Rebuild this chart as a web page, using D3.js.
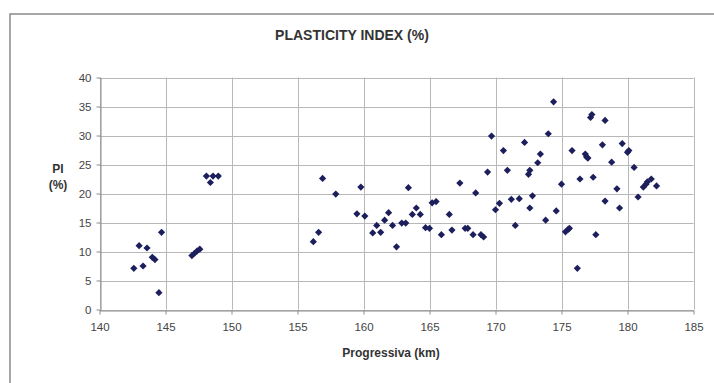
<!DOCTYPE html>
<html>
<head>
<meta charset="utf-8">
<script src="https://cdn.jsdelivr.net/npm/d3@7"></script>
<style>
  html, body { margin: 0; padding: 0; background: #fff; }
  svg { display: block; font-family: "Liberation Sans", Arial, sans-serif; }
</style>
</head>
<body>
<svg id="chart" width="714" height="383"></svg>
<script>
// progressive chainage (km) and plasticity index (%)
const km = [
  142.6, 143.0, 143.3, 143.6, 144.0, 144.2, 144.5, 144.7,
  147.0, 147.2, 147.4, 147.6, 148.1, 148.6, 149.0, 148.4,
  156.2, 156.6, 156.9, 157.9, 159.5, 159.8, 160.1, 160.7, 161.0, 161.3,
  161.6, 161.9, 162.2, 162.5, 162.9, 163.2, 163.4, 163.7, 164.0, 164.3,
  164.7, 165.0, 165.2, 165.5, 165.9, 166.5, 166.7, 167.3, 167.7, 167.9,
  168.3, 168.5, 168.9, 169.1, 169.4, 169.7, 170.0, 170.3, 170.6, 170.9,
  171.2, 171.5, 171.8, 172.2, 172.5, 172.6, 172.6, 172.8, 173.2, 173.4,
  173.8, 174.0, 174.4, 174.6, 175.0, 175.3, 175.5, 175.6, 175.8, 176.2,
  176.4, 176.8, 176.9, 177.0, 177.2, 177.3, 177.4, 177.6, 178.1, 178.3,
  178.3, 178.8, 179.2, 179.4, 179.6, 180.0, 180.1, 180.5, 180.8, 181.2,
  181.4, 181.5, 181.8, 182.2
];
const pi = [
  7.1, 11.0, 7.5, 10.6, 9.0, 8.6, 2.9, 13.3,
  9.3, 9.7, 10.1, 10.4, 23.0, 23.0, 23.0, 21.9,
  11.7, 13.3, 22.6, 19.9, 16.5, 21.1, 16.1, 13.2, 14.5, 13.3,
  15.4, 16.7, 14.5, 10.8, 14.9, 14.9, 21.0, 16.4, 17.5, 16.4,
  14.1, 14.0, 18.4, 18.6, 12.9, 16.4, 13.7, 21.8, 14.0, 14.0,
  12.9, 20.1, 12.9, 12.5, 23.7, 29.9, 17.2, 18.3, 27.4, 24.0,
  19.0, 14.5, 19.1, 28.8, 23.3, 24.0, 17.5, 19.6, 25.3, 26.8,
  15.4, 30.3, 35.8, 17.0, 21.6, 13.4, 13.8, 14.0, 27.4, 7.1,
  22.5, 26.8, 26.3, 26.1, 33.1, 33.6, 22.8, 12.9, 28.4, 18.7,
  32.6, 25.4, 20.8, 17.5, 28.6, 27.1, 27.4, 24.5, 19.4, 21.1,
  21.6, 22.0, 22.5, 21.3
];
const xTicks = [140, 145, 150, 155, 160, 165, 170, 175, 180, 185];
const yTicks = [0, 5, 10, 15, 20, 25, 30, 35, 40];

const svg = d3.select('#chart');
const plotLeft = 99.5, plotRight = 693.5, plotTop = 77.5, plotBottom = 309.5;

const x = d3.scaleLinear().domain([140, 185]).range([plotLeft, plotRight]);
const y = d3.scaleLinear().domain([0, 40]).range([plotBottom, plotTop]);

// outer frame (runs off the right and bottom edges)
svg.append('path')
  .attr('d', 'M10,400V14H720')
  .attr('fill', 'none')
  .attr('stroke', '#8a8a8a')
  .attr('stroke-width', 1.5);

// grid
const grid = svg.append('g').attr('stroke', '#b8b8b8').attr('stroke-width', 1);
grid.selectAll('.h').data(yTicks).enter().append('line')
  .attr('x1', plotLeft).attr('x2', plotRight)
  .attr('y1', d => Math.round(y(d)) + 0.5).attr('y2', d => Math.round(y(d)) + 0.5);
grid.selectAll('.v').data(xTicks).enter().append('line')
  .attr('y1', plotTop).attr('y2', plotBottom)
  .attr('x1', d => Math.round(x(d)) + 0.5).attr('x2', d => Math.round(x(d)) + 0.5);

// axes
const xAxis = svg.append('g')
  .attr('transform', `translate(0, ${Math.round(plotBottom) + 0.5})`)
  .call(d3.axisBottom(x).tickValues(xTicks).tickSize(4).tickSizeOuter(0).tickPadding(8));
const yAxis = svg.append('g')
  .attr('transform', `translate(${Math.round(plotLeft) + 0.5}, 0)`)
  .call(d3.axisLeft(y).tickValues(yTicks).tickSize(4).tickSizeOuter(0).tickPadding(5));

[xAxis, yAxis].forEach(a => {
  a.select('.domain').attr('stroke', '#8c8c8c');
  a.selectAll('.tick line').attr('stroke', '#8c8c8c');
  a.selectAll('.tick text')
    .attr('fill', '#444')
    .attr('font-size', '11.5px')
    .attr('font-family', '"Liberation Sans", Arial, sans-serif');
});

// points
const diamond = 'M0,-3.6L3.6,0L0,3.6L-3.6,0Z';
svg.append('g')
  .selectAll('path')
  .data(km.map((k, i) => [k, pi[i]]))
  .enter()
  .append('path')
  .attr('d', diamond)
  .attr('transform', d => `translate(${x(d[0])}, ${y(d[1])})`)
  .attr('fill', '#1c1f5c');

// titles
svg.append('text')
  .attr('x', 352).attr('y', 40)
  .attr('text-anchor', 'middle')
  .attr('font-size', '14px').attr('font-weight', 'bold')
  .attr('fill', '#333')
  .text('PLASTICITY INDEX (%)');

svg.append('text')
  .attr('x', 391).attr('y', 357)
  .attr('text-anchor', 'middle')
  .attr('font-size', '12px').attr('font-weight', 'bold')
  .attr('fill', '#333')
  .text('Progressiva (km)');

svg.append('text')
  .attr('x', 58).attr('y', 173)
  .attr('text-anchor', 'middle')
  .attr('font-size', '12px').attr('font-weight', 'bold')
  .attr('fill', '#333')
  .text('PI');
svg.append('text')
  .attr('x', 58).attr('y', 189)
  .attr('text-anchor', 'middle')
  .attr('font-size', '12px').attr('font-weight', 'bold')
  .attr('fill', '#333')
  .text('(%)');
</script>
</body>
</html>
